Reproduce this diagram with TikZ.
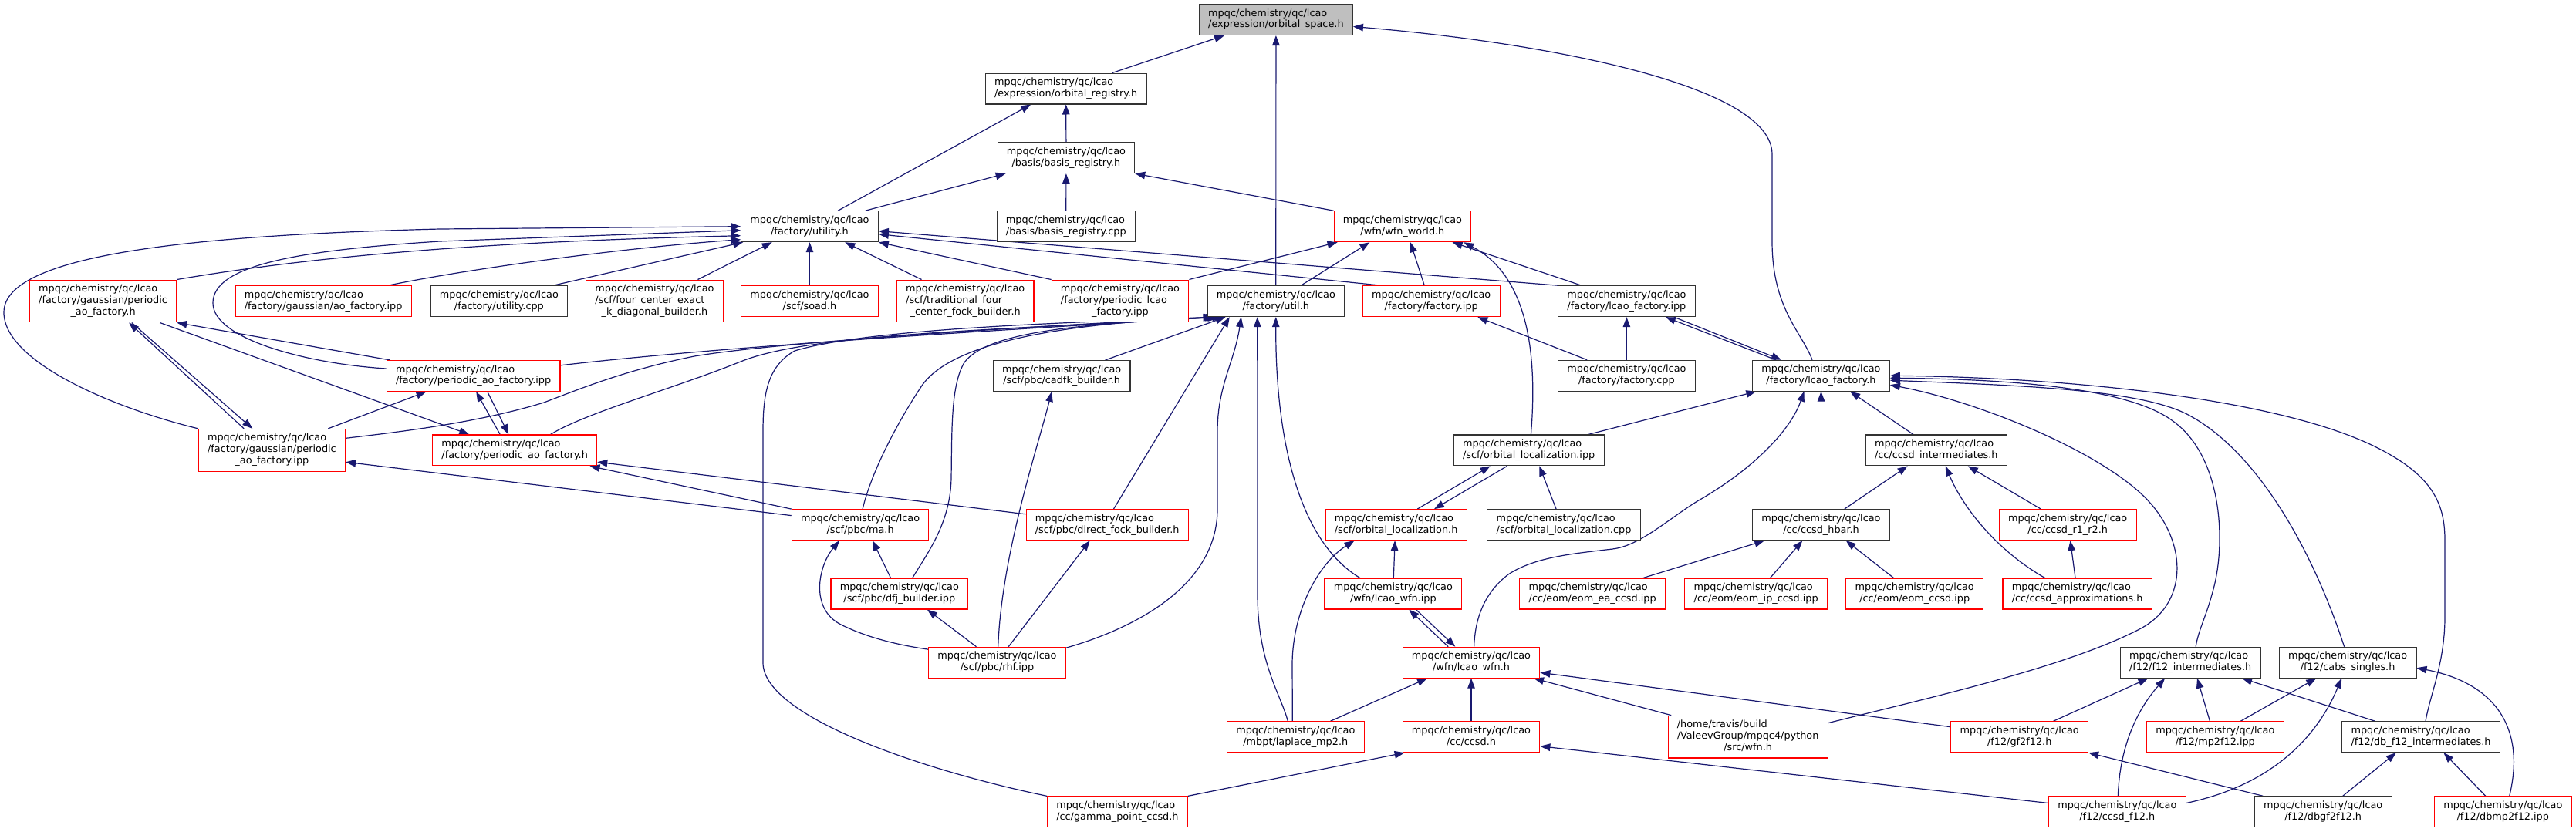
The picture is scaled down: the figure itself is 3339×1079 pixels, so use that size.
\documentclass[tikz,border=0pt]{standalone}
\usepackage{fontspec}
\setmainfont{DejaVu Sans}
\usetikzlibrary{arrows.meta,calc}
\definecolor{edgeblue}{RGB}{25,25,112}
\definecolor{rootgray}{RGB}{191,191,191}
\newcommand\lbA[1]{\begin{tabular}{@{}l@{}}mpqc/chemistry/qc/lcao\\\multicolumn{1}{@{}c@{}}{#1}\end{tabular}}
\newcommand\lbB[2]{\begin{tabular}{@{}l@{}}mpqc/chemistry/qc/lcao\\#1\\\multicolumn{1}{@{}c@{}}{#2}\end{tabular}}
\newcommand\lbC[3]{\begin{tabular}{@{}l@{}}#1\\#2\\\multicolumn{1}{@{}c@{}}{#3}\end{tabular}}
\pgfdeclarelayer{bg}\pgfdeclarelayer{edges}\pgfsetlayers{bg,edges,main}
\tikzset{
 filebox/.style={rectangle, line width=1.1pt, fill=white, inner xsep=11.8pt, inner ysep=5pt, font=\fontsize{12.83}{14.95}\selectfont},
 bk/.style={filebox, draw=black!80},
 rd/.style={filebox, draw=red},
 dep/.style={draw=edgeblue, line width=1.2pt, {Triangle[length=13pt,width=9.5pt]}-}
}
\begin{document}
\begin{tikzpicture}[x=1pt,y=-1pt]
\begin{pgfonlayer}{bg}
\fill[white] (0,0) rectangle (3339,1079);
\end{pgfonlayer}
\useasboundingbox (0,0) rectangle (3339,1079);
% nodes
\node[bk, fill=rootgray] (space) at (1653.9,25.5) {\lbA{/expression/orbital\_space.h}};
\node[bk] (oreg) at (1381.7,115) {\lbA{/expression/orbital\_registry.h}};
\node[bk] (breg) at (1381.9,204.6) {\lbA{/basis/basis\_registry.h}};
\node[bk] (bregcpp) at (1381.8,293.7) {\lbA{/basis/basis\_registry.cpp}};
\node[bk] (utility) at (1049.5,293.7) {\lbA{/factory/utility.h}};
\node[rd] (wfnworld) at (1817.9,293.7) {\lbA{/wfn/wfn\_world.h}};
\node[rd] (gpaoh) at (133.6,390.5) {\lbB{/factory/gaussian/periodic}{\_ao\_factory.h}};
\node[rd] (gaoipp) at (419.1,390.7) {\lbA{/factory/gaussian/ao\_factory.ipp}};
\node[bk] (utilcpp) at (646.9,390.7) {\lbA{/factory/utility.cpp}};
\node[rd] (fourc) at (848.4,390.5) {\lbB{/scf/four\_center\_exact}{\_k\_diagonal\_builder.h}};
\node[rd] (soad) at (1049.5,390.7) {\lbA{/scf/soad.h}};
\node[rd] (trad) at (1251.2,390.5) {\lbB{/scf/traditional\_four}{\_center\_fock\_builder.h}};
\node[rd] (plfipp) at (1452,390.5) {\lbB{/factory/periodic\_lcao}{\_factory.ipp}};
\node[bk] (util) at (1653.8,390.7) {\lbA{/factory/util.h}};
\node[rd] (facipp) at (1855.2,390.7) {\lbA{/factory/factory.ipp}};
\node[bk] (lfipp) at (2108.4,390.7) {\lbA{/factory/lcao\_factory.ipp}};
\node[rd] (paoipp) at (613.6,487.5) {\lbA{/factory/periodic\_ao\_factory.ipp}};
\node[bk] (cadfk) at (1376.2,487.5) {\lbA{/scf/pbc/cadfk\_builder.h}};
\node[bk] (faccpp) at (2108.4,487.2) {\lbA{/factory/factory.cpp}};
\node[bk] (lfh) at (2360.5,487.2) {\lbA{/factory/lcao\_factory.h}};
\node[rd] (gpaoipp) at (352.4,583.8) {\lbB{/factory/gaussian/periodic}{\_ao\_factory.ipp}};
\node[rd] (paoh) at (667.2,583.9) {\lbA{/factory/periodic\_ao\_factory.h}};
\node[bk] (olipp) at (1981.7,583.9) {\lbA{/scf/orbital\_localization.ipp}};
\node[bk] (ccsdint) at (2509.8,583.9) {\lbA{/cc/ccsd\_intermediates.h}};
\node[rd] (ma) at (1115.1,680.6) {\lbA{/scf/pbc/ma.h}};
\node[rd] (dfock) at (1435.2,680.6) {\lbA{/scf/pbc/direct\_fock\_builder.h}};
\node[rd] (olh) at (1809.6,680.6) {\lbA{/scf/orbital\_localization.h}};
\node[bk] (olcpp) at (2027,680.6) {\lbA{/scf/orbital\_localization.cpp}};
\node[bk] (hbar) at (2360.5,680.6) {\lbA{/cc/ccsd\_hbar.h}};
\node[rd] (r1r2) at (2680.2,680.6) {\lbA{/cc/ccsd\_r1\_r2.h}};
\node[rd] (dfj) at (1165.8,770) {\lbA{/scf/pbc/dfj\_builder.ipp}};
\node[rd] (lwipp) at (1805.8,770) {\lbA{/wfn/lcao\_wfn.ipp}};
\node[rd] (eomea) at (2064.2,770) {\lbA{/cc/eom/eom\_ea\_ccsd.ipp}};
\node[rd] (eomip) at (2276.2,770) {\lbA{/cc/eom/eom\_ip\_ccsd.ipp}};
\node[rd] (eomccsd) at (2481.7,770) {\lbA{/cc/eom/eom\_ccsd.ipp}};
\node[rd] (approx) at (2692.6,770) {\lbA{/cc/ccsd\_approximations.h}};
\node[rd] (rhf) at (1292.5,859.2) {\lbA{/scf/pbc/rhf.ipp}};
\node[rd] (lwh) at (1907,859.2) {\lbA{/wfn/lcao\_wfn.h}};
\node[bk] (f12int) at (2839.1,859.2) {\lbA{/f12/f12\_intermediates.h}};
\node[bk] (cabs) at (3043.1,859.2) {\lbA{/f12/cabs\_singles.h}};
\node[rd] (lap) at (1679.3,955.7) {\lbA{/mbpt/laplace\_mp2.h}};
\node[rd] (ccsd) at (1907,955.7) {\lbA{/cc/ccsd.h}};
\node[rd] (pywfn) at (2265.6,955.6) {\lbC{/home/travis/build}{/ValeevGroup/mpqc4/python}{/src/wfn.h}};
\node[rd] (gf2) at (2617.7,955.7) {\lbA{/f12/gf2f12.h}};
\node[rd] (mp2f12) at (2871.3,955.7) {\lbA{/f12/mp2f12.ipp}};
\node[bk] (dbf12) at (3138,955.7) {\lbA{/f12/db\_f12\_intermediates.h}};
\node[rd] (gamma) at (1448.4,1052.8) {\lbA{/cc/gamma\_point\_ccsd.h}};
\node[rd] (ccsdf12) at (2744.3,1052.8) {\lbA{/f12/ccsd\_f12.h}};
\node[bk] (dbgf2) at (3011.2,1052.8) {\lbA{/f12/dbgf2f12.h}};
\node[rd] (dbmp2) at (3244.3,1052.8) {\lbA{/f12/dbmp2f12.ipp}};
% edges
\begin{pgfonlayer}{edges}
\draw[dep] ($(space.south)+(-66.8,0)$) -- ($(oreg.north)+(60,0)$);
\draw[dep] (space.south) -- (util.north);
\draw[dep] ($(space.east)+(0,9)$) .. controls (2000,55) and (2297,110) .. (2297,200) -- (2297,313) .. controls (2297,400) and (2335,430) .. ($(lfh.north)+(-11.5,0)$);
\draw[dep] ($(oreg.south)+(-45.4,0)$) -- ($(utility.north)+(36.7,0)$);
\draw[dep] (oreg.south) -- (breg.north);
\draw[dep] ($(breg.south)+(-78.3,0)$) -- ($(utility.north)+(72.3,0)$);
\draw[dep] (breg.south) -- (bregcpp.north);
\draw[dep] (breg.south east) -- (wfnworld.north west);
% into utility.h
\draw[dep] ($(utility.west)+(0,12)$) .. controls (700,312) and (450,325) .. (gpaoh.north east);
\draw[dep] ($(utility.west)+(0,17)$) .. controls (800,322) and (600,350) .. ($(gaoipp.north)+(84,0)$);
\draw[dep] ($(utility.south west)+(3,0)$) -- ($(utilcpp.north)+(70,0)$);
\draw[dep] ($(utility.south)+(-48.8,0)$) -- ($(fourc.north)+(56,0)$);
\draw[dep] (utility.south) -- (soad.north);
\draw[dep] ($(utility.south)+(45.8,0)$) -- ($(trad.north)+(-56.7,0)$);
\draw[dep] (utility.south east) -- (plfipp.north west);
\draw[dep] ($(utility.east)+(0,10)$) -- ($(facipp.north)+(-65,0)$);
\draw[dep] ($(utility.east)+(0,6)$) -- (lfipp.north west);
\draw[dep] ($(utility.west)+(0,5)$) -- (570,313) .. controls (380,325) and (276,345) .. (276,393) .. controls (276,440) and (400,472) .. ($(paoipp.west)+(0,-9.5)$);
\draw[dep] (utility.west) -- (570,297) .. controls (250,305) and (5,330) .. (5,405) .. controls (5,470) and (150,530) .. (gpaoipp.north west);
% into wfn_world.h
\draw[dep] ($(wfnworld.south)+(-84.3,0)$) -- (plfipp.north east);
\draw[dep] ($(wfnworld.south)+(-42.5,0)$) -- ($(util.north)+(32.6,0)$);
\draw[dep] ($(wfnworld.south)+(10.2,0)$) -- ($(facipp.north)+(-8.9,0)$);
\draw[dep] ($(wfnworld.south)+(64.7,0)$) -- ($(lfipp.north)+(-58.5,0)$);
\draw[dep] ($(wfnworld.south)+(79.3,0)$) .. controls (1985,360) and (1992,470) .. ($(olipp.north)+(2.7,0)$);
% factory
\draw[dep] ($(facipp.south)+(60.2,0)$) -- ($(faccpp.north)+(-51.3,0)$);
\draw[dep] (lfipp.south) -- (faccpp.north);
\draw[dep] ($(lfipp.south)+(50.5,0)$) -- ($(lfh.north)+(-58.7,0)$);
\draw[dep] ($(lfh.north)+(-51.5,0)$) -- ($(lfipp.south)+(61.4,0)$);
\draw[dep] ($(lfh.south)+(-84.2,0)$) -- ($(olipp.north)+(77.2,0)$);
% into util.h
\draw[dep] ($(util.south west)+(8,0)$) .. controls (1400,418) and (1130,425) .. (1030,455) .. controls (995,475) and (989,510) .. (989,560) -- (989,860) .. controls (990,930) and (1200,1000) .. (gamma.north west);
\draw[dep] ($(util.south west)+(10,0)$) .. controls (1300,425) and (1000,445) .. (900,462) .. controls (810,480) and (750,505) .. (705,522) .. controls (620,548) and (520,560) .. ($(gpaoipp.east)+(0,-15.5)$);
\draw[dep] ($(util.south west)+(12,0)$) .. controls (1300,428) and (950,448) .. ($(paoipp.east)+(0,-13.7)$);
\draw[dep] ($(util.south west)+(14,0)$) .. controls (1300,428) and (1050,432) .. (960,469) .. controls (870,505) and (760,535) .. ($(paoh.north)+(46.4,0)$);
\draw[dep] ($(util.south west)+(16,0)$) .. controls (1350,420) and (1230,450) .. (1195,500) .. controls (1165,545) and (1130,610) .. ($(ma.north)+(3,0)$);
\draw[dep] ($(util.south west)+(20,0)$) .. controls (1400,420) and (1280,430) .. (1250,470) .. controls (1232,500) and (1234,560) .. (1233,620) .. controls (1232,680) and (1200,720) .. ($(dfj.north)+(17,0)$);
\draw[dep] ($(util.south west)+(24,0)$) -- ($(cadfk.north)+(56.4,0)$);
\draw[dep] ($(util.south)+(-60,0)$) -- ($(dfock.north)+(8.3,0)$);
\draw[dep] ($(util.south)+(-45,0)$) .. controls (1600,470) and (1578,500) .. (1578,560) -- (1578,660) .. controls (1578,760) and (1470,815) .. ($(rhf.east)+(0,-19)$);
\draw[dep] ($(util.south)+(-24,0)$) -- (1630,770) .. controls (1630,860) and (1660,900) .. ($(lap.north)+(-10,0)$);
\draw[dep] (util.south) .. controls (1653,560) and (1680,700) .. ($(lwipp.north)+(-43,0)$);
% laplace, lcao_wfn, orbital_localization
\draw[dep] ($(olh.south)+(-54,0)$) .. controls (1710,730) and (1676,790) .. (1675,860) -- ($(lap.north)+(-4,0)$);
\draw[dep] ($(lwh.south)+(-57,0)$) -- ($(lap.north)+(45.2,0)$);
\draw[dep] (lwh.south) -- (ccsd.north);
\draw[dep] ($(lwh.south)+(81,0)$) -- ($(pywfn.north)+(-99.4,0)$);
\draw[dep] ($(lwh.east)+(0,13)$) -- ($(gf2.west)+(0,-13)$);
\draw[dep] ($(lwipp.south)+(20.5,0)$) -- ($(lwh.north)+(-29.8,0)$);
\draw[dep] ($(lwh.north)+(-20.7,0)$) -- ($(lwipp.south)+(29.6,0)$);
\draw[dep] ($(olh.south)+(-1.5,0)$) -- ($(lwipp.north)+(0.5,0)$);
\draw[dep] ($(olipp.south)+(-50,0)$) -- ($(olh.north)+(27.6,0)$);
\draw[dep] ($(olh.north)+(49.4,0)$) -- ($(olipp.south)+(-28.2,0)$);
\draw[dep] ($(olipp.south)+(13.6,0)$) -- ($(olcpp.north)+(-9.9,0)$);
\draw[dep] ($(ccsd.south west)+(3,0)$) -- (gamma.north east);
\draw[dep] ($(ccsd.east)+(0,12)$) -- ($(ccsdf12.west)+(0,-11.3)$);
% into lcao_factory.h
\draw[dep] ($(lfh.south)+(-22,0)$) .. controls (2320,560) and (2270,610) .. (2200,650) .. controls (2160,675) and (2125,708) .. (2090,712) .. controls (2040,718) and (1990,722) .. (1955,745) .. controls (1925,768) and (1912,800) .. ($(lwh.north)+(3.6,0)$);
\draw[dep] (lfh.south) -- (hbar.north);
\draw[dep] ($(lfh.south)+(37.6,0)$) -- ($(ccsdint.north)+(-29.9,0)$);
\draw[dep] ($(lfh.east)+(0,12)$) .. controls (2560,520) and (2710,580) .. (2775,640) .. controls (2835,695) and (2840,780) .. (2775,815) .. controls (2680,865) and (2500,905) .. ($(pywfn.east)+(0,-18)$);
\draw[dep] ($(lfh.east)+(0,3)$) .. controls (2620,492) and (2760,505) .. (2815,545) .. controls (2880,590) and (2885,700) .. (2870,760) .. controls (2860,800) and (2850,815) .. ($(f12int.north)+(7,0)$);
\draw[dep] ($(lfh.east)+(0,6)$) .. controls (2620,500) and (2780,505) .. (2840,540) .. controls (2930,590) and (3000,720) .. ($(cabs.north)+(-4.5,0)$);
\draw[dep] (lfh.east) .. controls (2700,490) and (2960,520) .. (3080,580) .. controls (3150,615) and (3169,650) .. (3169,700) -- (3169,800) .. controls (3169,860) and (3150,900) .. ($(dbf12.north)+(6,0)$);
% ccsd intermediates
\draw[dep] ($(hbar.south)+(-73.3,0)$) -- ($(eomea.north)+(65.6,0)$);
\draw[dep] ($(hbar.south)+(-24.2,0)$) -- ($(eomip.north)+(18.3,0)$);
\draw[dep] ($(hbar.south)+(32.2,0)$) -- ($(eomccsd.north)+(-27.2,0)$);
\draw[dep] ($(ccsdint.south)+(-37.2,0)$) -- ($(hbar.north)+(30.3,0)$);
\draw[dep] ($(ccsdint.south)+(12,0)$) .. controls (2545,660) and (2590,715) .. ($(approx.north)+(-42,0)$);
\draw[dep] ($(ccsdint.south)+(41,0)$) -- ($(r1r2.north)+(-34.9,0)$);
\draw[dep] ($(r1r2.south)+(3.3,0)$) -- ($(approx.north)+(-2.6,0)$);
% f12
\draw[dep] ($(f12int.south)+(-54.6,0)$) -- ($(gf2.north)+(43.9,0)$);
\draw[dep] ($(f12int.south)+(-33,0)$) .. controls (2775,915) and (2748,960) .. ($(ccsdf12.north)+(1,0)$);
\draw[dep] ($(f12int.south)+(8.9,0)$) -- ($(mp2f12.north)+(-6.9,0)$);
\draw[dep] ($(f12int.south)+(67,0)$) -- ($(dbf12.north)+(-59.5,0)$);
\draw[dep] ($(cabs.south)+(-40.8,0)$) -- ($(mp2f12.north)+(33,0)$);
\draw[dep] ($(cabs.south)+(-8,0)$) .. controls (3010,940) and (2960,1015) .. ($(ccsdf12.east)+(0,-11.3)$);
\draw[dep] ($(cabs.east)+(0,7)$) .. controls (3230,885) and (3275,940) .. ($(dbmp2.north)+(8.4,0)$);
\draw[dep] (gf2.south east) -- ($(dbgf2.north)+(-77.9,0)$);
\draw[dep] ($(dbf12.south)+(-32.3,0)$) -- ($(dbgf2.north)+(25.5,0)$);
\draw[dep] ($(dbf12.south)+(29.4,0)$) -- ($(dbmp2.north)+(-22.5,0)$);
% periodic cluster
\draw[dep] ($(gpaoh.south)+(33.6,0)$) -- ($(gpaoipp.north)+(-36.2,0)$);
\draw[dep] ($(gpaoipp.north)+(-25.2,0)$) -- ($(gpaoh.south)+(37.2,0)$);
\draw[dep] ($(paoh.north)+(-59,0)$) -- ($(gpaoh.south)+(73.6,0)$);
\draw[dep] (gpaoh.south east) -- ($(paoipp.north west)+(5,0)$);
\draw[dep] ($(paoipp.south)+(-61.1,0)$) -- ($(gpaoipp.north)+(72.9,0)$);
\draw[dep] ($(paoipp.south)+(3.6,0)$) -- ($(paoh.north)+(-19,0)$);
\draw[dep] ($(paoh.north)+(-8,0)$) -- ($(paoipp.south)+(18.2,0)$);
\draw[dep] ($(gpaoipp.east)+(0,15.4)$) -- ($(ma.west)+(0,-12)$);
\draw[dep] ($(paoh.south)+(97.3,0)$) -- (ma.north west);
\draw[dep] ($(paoh.east)+(0,15.3)$) -- ($(dfock.west)+(0,-13.8)$);
\draw[dep] ($(ma.south)+(-27,0)$) .. controls (1060,735) and (1050,790) .. (1090,810) .. controls (1130,830) and (1175,838) .. ($(rhf.west)+(0,-17)$);
\draw[dep] ($(ma.south)+(15.8,0)$) -- ($(dfj.north)+(-11.3,0)$);
\draw[dep] ($(dfj.south)+(36,0)$) -- ($(rhf.north)+(-27,0)$);
\draw[dep] ($(dfock.south)+(-22.6,0)$) -- ($(rhf.north)+(14.7,0)$);
\draw[dep] ($(cadfk.south)+(-13,0)$) .. controls (1345,580) and (1298,720) .. ($(rhf.north)+(1.2,0)$);
\end{pgfonlayer}
\end{tikzpicture}
\end{document}
